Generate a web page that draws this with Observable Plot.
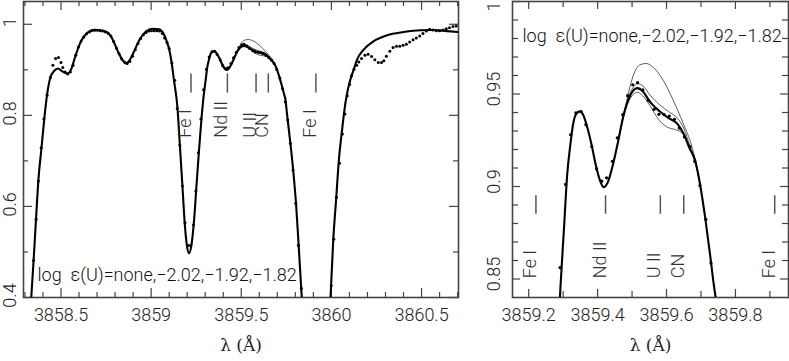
<!DOCTYPE html>
<html><head><meta charset="utf-8">
<script src="https://cdn.jsdelivr.net/npm/d3@7"></script>
<script src="https://cdn.jsdelivr.net/npm/@observablehq/plot@0.6"></script>
<style>
body{margin:0;background:#fff}
#chart{position:relative;width:789px;height:361px;overflow:hidden;background:#fff}
#left{position:absolute;left:0;top:0}
#right{position:absolute;left:470px;top:0}
</style></head><body><div id="chart"><div id="left"></div><div id="right"></div></div>
<script>
// ---------- observed spectrum (dots) ----------
const obsWave = [3858.347,3858.362,3858.375,3858.390,3858.405,3858.423,3858.441,3858.455,3858.470,3858.486,3858.500,3858.510,3858.523,3858.537,3858.552,3858.567,3858.582,3858.597,3858.612,3858.627,3858.642,3858.657,3858.672,3858.687,3858.702,3858.717,3858.732,3858.747,3858.762,3858.777,3858.792,3858.807,3858.822,3858.837,3858.852,3858.867,3858.882,3858.897,3858.912,3858.927,3858.942,3858.957,3858.972,3858.987,3859.002,3859.017,3859.032,3859.047,3859.062,3859.075,3859.088,3859.100,3859.115,3859.131,3859.145,3859.159,3859.174,3859.188,3859.207,3859.220,3859.235,3859.248,3859.262,3859.276,
3859.291,3859.307,3859.322,3859.337,3859.352,3859.366,3859.383,3859.397,3859.412,3859.426,3859.443,3859.457,3859.473,3859.487,3859.502,3859.516,3859.531,3859.547,3859.564,3859.578,3859.593,3859.608,3859.623,3859.637,3859.652,3859.668,3859.682,3859.697,3859.714,3859.729,
3859.744,3859.758,3859.772,3859.787,3859.802,3859.817,3859.833,3859.999,3860.013,3860.028,3860.045,3860.061,3860.075,3860.088,3860.101,3860.112,3860.125,3860.140,3860.152,3860.167,3860.186,3860.204,3860.223,3860.241,3860.260,3860.278,3860.291,3860.305,3860.324,3860.342,3860.361,3860.379,3860.398,3860.416,3860.434,3860.453,3860.471,3860.490,3860.508,3860.527,3860.545,3860.564,3860.582,3860.600,3860.619,3860.637,3860.655,3860.674,3860.692];
const obsFlux = [0.481,0.572,0.656,0.729,0.792,0.844,0.883,0.910,0.925,0.927,0.916,0.905,0.895,0.891,0.895,0.910,0.932,0.950,0.963,0.972,0.979,0.983,0.986,0.987,0.987,0.986,0.985,0.983,0.980,0.974,0.962,0.948,0.935,0.924,0.917,0.914,0.918,0.930,0.944,0.958,0.969,0.977,0.982,0.985,0.986,0.986,0.986,0.985,0.980,0.970,0.960,0.947,0.915,0.877,0.815,0.735,0.645,0.564,0.514,0.514,0.559,0.634,0.718,0.792,
0.8561,0.9011,0.9280,0.9398,0.9405,0.9334,0.9216,0.9095,0.9029,0.9047,0.9136,0.9263,0.9388,0.9491,0.9550,0.9561,0.9522,0.9466,0.9417,0.9390,0.9388,0.9381,0.9363,0.9316,0.9268,0.9216,0.9136,0.9005,0.8822,0.8586,
0.830,0.790,0.738,0.680,0.607,0.515,0.420,0.426,0.528,0.620,0.695,0.759,0.803,0.843,0.868,0.887,0.901,0.910,0.917,0.925,0.932,0.934,0.929,0.922,0.916,0.916,0.920,0.930,0.941,0.949,0.952,0.952,0.954,0.956,0.961,0.966,0.970,0.974,0.980,0.985,0.989,0.9875,0.986,0.986,0.9875,0.990,0.9925,0.995,0.996];

// ---------- synthetic spectrum, best fit log eps(U) = -1.92 (thick) ----------
const synWave = [3858.321,3858.335,3858.348,3858.362,3858.375,3858.392,3858.408,3858.423,3858.441,3858.463,3858.482,3858.510,3858.537,3858.556,3858.583,3858.611,3858.648,3858.684,3858.721,3858.758,3858.786,3858.815,3858.842,3858.861,3858.879,3858.906,3858.934,3858.971,3859.008,3859.044,3859.072,3859.087,3859.100,3859.114,3859.127,3859.146,3859.159,3859.174,3859.186,3859.198,3859.210,3859.223,3859.238,3859.251,3859.265,3859.280,3859.292,3859.302,3859.312,3859.320,3859.329,3859.339,3859.349,3859.358,3859.370,3859.383,3859.395,3859.407,3859.418,3859.431,3859.445,3859.460,3859.474,3859.489,3859.503,3859.515,3859.531,3859.551,3859.581,3859.606,3859.631,3859.651,3859.666,3859.683,3859.697,3859.712,3859.726,3859.738,3859.743,3859.756,3859.773,3859.790,3859.804,3859.819,3859.836,3859.860,3859.975,3859.995,3860.010,3860.027,3860.041,3860.056,3860.078,3860.096,3860.124,3860.143,3860.180,3860.235,3860.309,3860.401,3860.493,3860.567,3860.641,3860.705];
const synFlux = [0.300,0.400,0.481,0.576,0.660,0.729,0.795,0.846,0.883,0.898,0.903,0.896,0.892,0.901,0.934,0.963,0.982,0.988,0.987,0.982,0.967,0.941,0.921,0.914,0.920,0.941,0.965,0.984,0.990,0.989,0.977,0.962,0.945,0.915,0.876,0.817,0.737,0.642,0.565,0.515,0.497,0.514,0.569,0.642,0.720,0.796,0.845,0.876,0.907,0.9212,0.9338,0.9395,0.9406,0.9388,0.9320,0.9221,0.9113,0.9032,0.8996,0.9029,0.9122,0.9248,0.9374,0.9468,0.9518,0.9532,0.9515,0.9460,0.9405,0.9370,0.9340,0.9280,0.9210,0.9140,0.9015,0.8834,0.8637,0.8457,0.8391,0.795,0.737,0.671,0.605,0.510,0.398,0.25,0.25,0.398,0.525,0.620,0.700,0.757,0.828,0.865,0.901,0.923,0.945,0.963,0.976,0.983,0.987,0.9875,0.985,0.983];

// ---------- other U abundances (only where they depart from the best fit) ----------
const noneWave = [3859.460,3859.474,3859.484,3859.494,3859.506,3859.523,3859.541,3859.562,3859.591,3859.620,3859.649,3859.673,3859.685,3859.697];
const noneFlux = [0.9248,0.9380,0.9460,0.9540,0.9612,0.9658,0.9665,0.9643,0.9572,0.9464,0.9338,0.9220,0.9130,0.9015];
const m202Wave = [3859.460,3859.474,3859.489,3859.503,3859.517,3859.533,3859.552,3859.581,3859.606,3859.631,3859.651,3859.666,3859.683,3859.697];
const m202Flux = [0.9248,0.9378,0.9480,0.9536,0.9556,0.9541,0.9495,0.9440,0.9405,0.9370,0.9310,0.9230,0.9142,0.9015];
const m182Wave = [3859.460,3859.474,3859.489,3859.503,3859.515,3859.531,3859.552,3859.576,3859.601,3859.621,3859.644,3859.658,3859.673,3859.683,3859.697];
const m182Flux = [0.9248,0.9368,0.9455,0.9497,0.9509,0.9490,0.9437,0.9365,0.9322,0.9310,0.9292,0.9255,0.9180,0.9135,0.9015];

// ---------- line identifications ----------
const lineNames = ["Fe I","Nd II","U II","CN","Fe I"];
const lineWaves = [3859.221,3859.423,3859.582,3859.650,3859.914];

// ---------- texts and ticks ----------
const abundanceLabel = "log\u00a0 ε(U)=none,−2.02,−1.92,−1.82";
const xAxisLabel = "λ (Å)";
const leftXMajor = [3858.5,3859,3859.5,3860,3860.5];
const leftXMinor = [3858.3,3858.4,3858.6,3858.7,3858.8,3858.9,3859.1,3859.2,3859.3,3859.4,3859.6,3859.7,3859.8,3859.9,3860.1,3860.2,3860.3,3860.4,3860.6,3860.7];
const leftYMajor = [0.4,0.6,0.8,1];
const leftYMinor = [0.5,0.7,0.9];
const rightXMajor = [3859.2,3859.4,3859.6,3859.8];
const rightXMinor = [3859.3,3859.5,3859.7,3859.9];
const rightYMajor = [0.85,0.9,0.95,1];
const rightYMinor = [0.86,0.87,0.88,0.89,0.91,0.92,0.93,0.94,0.96,0.97,0.98,0.99];

const obs = obsWave.map((w,i)=>({w, f: obsFlux[i]}));
const syn = synWave.map((w,i)=>({w, f: synFlux[i]}));
const alt = [
  ...noneWave.map((w,i)=>({w, f: noneFlux[i], s: "none"})),
  ...m202Wave.map((w,i)=>({w, f: m202Flux[i], s: "-2.02"})),
  ...m182Wave.map((w,i)=>({w, f: m182Flux[i], s: "-1.82"}))
];
const markers = lineNames.map((name,i)=>({name, w: lineWaves[i]}));

const AX = "#444";
const fmt = d => `${d}`;
const H = 361, MT = 1, MB = 64, FH = H - MT - MB;

// inward tick marks on all four sides, as rules inset to a short length
function ticks(c, vals, size) {
  const FW = c.width - c.marginLeft - c.marginRight;
  const o = {stroke: AX, strokeWidth: 1.2};
  const inRange = (v, d) => v >= Math.min(...d) && v <= Math.max(...d);
  const xs = vals.x.filter(v => inRange(v, c.xDomain));
  const ys = vals.y.filter(v => inRange(v, c.yDomain));
  return [
    Plot.ruleX(xs, {x: d => d, insetTop: FH - size, ...o}),
    Plot.ruleX(xs, {x: d => d, insetBottom: FH - size, ...o}),
    Plot.ruleY(ys, {y: d => d, insetRight: FW - size, ...o}),
    Plot.ruleY(ys, {y: d => d, insetLeft: FW - size, ...o})
  ];
}

function panel(c) {
  const top = c.yDomain[1];
  return Plot.plot({
    width: c.width, height: H,
    marginLeft: c.marginLeft, marginRight: c.marginRight, marginTop: MT, marginBottom: MB,
    x: {domain: c.xDomain}, y: {domain: c.yDomain},
    style: {fontFamily: "Roboto, 'Liberation Sans', sans-serif", fontSize: "18px", fontWeight: 300, color: "#111", background: "#fff"},
    marks: [
      ...ticks(c, {x: c.xMinor, y: c.yMinor}, c.minor),
      ...ticks(c, {x: c.xMajor, y: c.yMajor}, c.major),
      Plot.axisX({anchor: "bottom", ticks: c.xMajor, tickSize: 0, tickPadding: 11, tickFormat: fmt, label: null, fill: "#222"}),
      Plot.axisY({anchor: "left", ticks: c.yMajor.filter(d => d < top), tickSize: 0, tickPadding: c.yPad, tickRotate: -90, dy: c.yDy, tickFormat: fmt, label: null, fill: "#222"}),
      Plot.axisY({anchor: "left", ticks: c.yMajor.filter(d => d >= top), tickSize: 0, tickPadding: c.yPad, tickRotate: -90, dy: 5, tickFormat: fmt, label: null, fill: "#222"}),
      Plot.frame({stroke: AX, strokeWidth: 1.6}),
      Plot.line(alt, {x: "w", y: "f", z: "s", curve: "monotone-x", stroke: "#333", strokeWidth: 0.8, clip: true}),
      Plot.line(syn, {x: "w", y: "f", curve: "monotone-x", stroke: "#000", strokeWidth: 2.1, clip: true}),
      Plot.dot(obs, {x: "w", y: "f", r: c.r, fill: "#000", stroke: "none", clip: true}),
      Plot.ruleX(markers, {x: "w", y1: c.markY1, y2: c.markY2, stroke: "#555", strokeWidth: 1.5}),
      Plot.text(markers, {x: "w", y: c.textY, text: "name", rotate: -90, textAnchor: "start", lineAnchor: "bottom", fill: "#333"}),
      Plot.text([abundanceLabel], {text: d => d, frameAnchor: c.abAnchor, dx: c.abDx, dy: c.abDy, textAnchor: "start", lineAnchor: "bottom", fill: "#111"}),
      Plot.text([xAxisLabel], {text: d => d, frameAnchor: "bottom", dy: 53, fontFamily: "'DejaVu Serif', 'Liberation Serif', serif", fontSize: 17, fontWeight: 400, fill: "#222"})
    ]
  });
}

document.getElementById("left").append(panel({
  width: 460, marginLeft: 23, marginRight: 2,
  xDomain: [3858.292, 3860.705], yDomain: [0.4, 1.05],
  xMajor: leftXMajor, xMinor: leftXMinor, yMajor: leftYMajor, yMinor: leftYMinor,
  major: 9, minor: 5, yPad: 7.5, yDy: -2, r: 1.5,
  markY1: 0.849, markY2: 0.891, textY: 0.751,
  abAnchor: "bottom-left", abDx: 14, abDy: -17
}));
document.getElementById("right").append(panel({
  width: 319, marginLeft: 42, marginRight: 1,
  xDomain: [3859.153, 3859.954], yDomain: [0.84, 1.0],
  xMajor: rightXMajor, xMinor: rightXMinor, yMajor: rightYMajor, yMinor: rightYMinor,
  major: 8, minor: 6, yPad: 12.5, yDy: -5, r: 1.6,
  markY1: 0.885, markY2: 0.895, textY: 0.8504,
  abAnchor: "top-left", abDx: 10, abDy: 40
}));
</script></body></html>
